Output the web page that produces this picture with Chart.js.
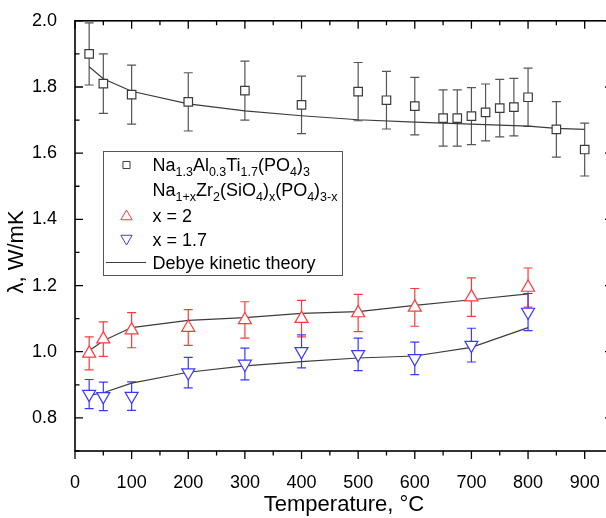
<!DOCTYPE html>
<html>
<head>
<meta charset="utf-8">
<script src="https://cdn.jsdelivr.net/npm/chart.js@4/dist/chart.umd.min.js"></script>
<style>
  html, body { margin: 0; padding: 0; background: #fff; overflow: hidden; }
</style>
</head>
<body>
<canvas id="chart" width="640" height="518"></canvas>
<script>
const FONT = "'Liberation Sans', Arial, sans-serif";

// Na1.3Al0.3Ti1.7(PO4)3
const tempNatp = [25, 50, 100, 200, 300, 400, 500, 550, 600, 650, 675, 700, 725, 750, 775, 800, 850, 900];
const lambdaNatp = [1.90, 1.81, 1.777, 1.755, 1.789, 1.746, 1.786, 1.76, 1.742, 1.706, 1.706, 1.712, 1.723, 1.736, 1.739, 1.769, 1.672, 1.611];
const errNatp = [0.094, 0.09, 0.089, 0.088, 0.089, 0.087, 0.088, 0.087, 0.087, 0.085, 0.085, 0.086, 0.086, 0.087, 0.087, 0.088, 0.084, 0.08];

// Na1+xZr2(SiO4)x(PO4)3-x
const tempNzsp = [25, 50, 100, 200, 300, 400, 500, 600, 700, 800];
const lambdaX2 = [0.995, 1.038, 1.065, 1.073, 1.096, 1.10, 1.117, 1.134, 1.165, 1.194];
const errX2 = [0.05, 0.052, 0.053, 0.054, 0.055, 0.055, 0.056, 0.057, 0.058, 0.059];
const lambdaX17 = [0.872, 0.865, 0.866, 0.937, 0.963, 1.001, 0.992, 0.98, 1.02, 1.12];
const errX17 = [0.044, 0.043, 0.043, 0.046, 0.048, 0.05, 0.049, 0.049, 0.051, 0.056];

// Debye kinetic theory
const fitTempNatp = [25, 50, 100, 200, 300, 400, 500, 600, 700, 800, 850, 900];
const fitNatp = [1.861, 1.825, 1.787, 1.749, 1.728, 1.713, 1.701, 1.694, 1.688, 1.682, 1.675, 1.672];
const fitX2 = [1.003, 1.033, 1.073, 1.095, 1.103, 1.116, 1.121, 1.140, 1.157, 1.175];
const fitX17 = [0.868, 0.876, 0.905, 0.938, 0.957, 0.970, 0.981, 0.987, 1.013, 1.073];

const xTicks = [0, 100, 200, 300, 400, 500, 600, 700, 800, 900];
const yTicks = [0.8, 1.0, 1.2, 1.4, 1.6, 1.8, 2.0];
const xRange = [0, 950];
const yRange = [0.7, 2.0];

const yTitle = 'λ, W/mK';
const legendLabels = [
  'Na_{1.3}Al_{0.3}Ti_{1.7}(PO_{4})_{3}',
  'Na_{1+x}Zr_{2}(SiO_{4})_{x}(PO_{4})_{3-x}',
  'x = 2',
  'x = 1.7',
  'Debye kinetic theory'
];

const RED = '#ff3a3a';
const BLUE = '#3a3aff';
const GREY = '#3c3c3c';

function pts(xs, ys) {
  return xs.map((x, i) => ({ x: x, y: ys[i] }));
}

// vertical error bars with caps, drawn under the markers
const errorBars = {
  id: 'errorBars',
  beforeDatasetsDraw(chart) {
    const { ctx, scales: { x, y } } = chart;
    chart.data.datasets.forEach(ds => {
      if (!ds.errors) return;
      ctx.save();
      ctx.strokeStyle = ds.errColor;
      ctx.lineWidth = 1.2;
      ctx.beginPath();
      ds.data.forEach((p, i) => {
        const px = x.getPixelForValue(p.x);
        const top = y.getPixelForValue(p.y + ds.errors[i]);
        const bot = y.getPixelForValue(p.y - ds.errors[i]);
        ctx.moveTo(px, top); ctx.lineTo(px, bot);
        ctx.moveTo(px - 4.5, top); ctx.lineTo(px + 4.5, top);
        ctx.moveTo(px - 4.5, bot); ctx.lineTo(px + 4.5, bot);
      });
      ctx.stroke();
      ctx.restore();
    });
  }
};

// box frame: bottom ticks point out, the other three sides point in
const frame = {
  id: 'frame',
  afterDatasetsDraw(chart) {
    const { ctx, chartArea: a, scales: { x, y } } = chart;
    ctx.save();
    ctx.strokeStyle = '#000';
    ctx.lineWidth = 1.6;
    ctx.strokeRect(a.left, a.top, a.right - a.left, a.bottom - a.top);
    ctx.lineWidth = 1.3;
    ctx.beginPath();
    for (let k = 0; k <= 19; k++) {
      const px = x.getPixelForValue(k * 50);
      const len = k % 2 === 0 ? 8 : 4.5;
      ctx.moveTo(px, a.bottom); ctx.lineTo(px, a.bottom + len);
      ctx.moveTo(px, a.top); ctx.lineTo(px, a.top + len);
    }
    for (let k = 7; k <= 20; k++) {
      const py = y.getPixelForValue(k / 10);
      const len = k % 2 === 0 ? 8 : 4.5;
      ctx.moveTo(a.left, py); ctx.lineTo(a.left + len, py);
      ctx.moveTo(a.right, py); ctx.lineTo(a.right - len, py);
    }
    ctx.stroke();

    // y axis title, rotated
    ctx.translate(17, 252);
    ctx.rotate(-Math.PI / 2);
    ctx.fillStyle = '#000';
    ctx.font = '22px ' + FONT;
    ctx.textAlign = 'center';
    ctx.textBaseline = 'middle';
    ctx.fillText(yTitle, 0, 0);
    ctx.restore();
  }
};

// text with _{...} subscripts
function drawRich(ctx, text, x, y) {
  text.split(/(_\{[^}]*\})/).forEach(part => {
    if (!part) return;
    const sub = part.startsWith('_{');
    const s = sub ? part.slice(2, -1) : part;
    ctx.font = (sub ? '12.5px ' : '18px ') + FONT;
    ctx.fillText(s, x, sub ? y + 4.5 : y);
    x += ctx.measureText(s).width;
  });
}

const legendBox = {
  id: 'legendBox',
  afterDraw(chart) {
    const ctx = chart.ctx;
    const left = 103.5, top = 151.5, w = 239, h = 124;
    const symX = 126.5, textX = 152.5;
    const baselines = [171, 196, 221.5, 245.5, 269];
    ctx.save();
    ctx.fillStyle = '#fff';
    ctx.fillRect(left, top, w, h);
    ctx.strokeStyle = '#555';
    ctx.lineWidth = 1;
    ctx.strokeRect(left, top, w, h);

    ctx.strokeStyle = GREY;
    Chart.helpers.drawPoint(ctx, { pointStyle: 'rect', radius: 5, borderWidth: 1.2, rotation: 0 }, symX, baselines[0] - 6);
    ctx.strokeStyle = RED;
    Chart.helpers.drawPoint(ctx, { pointStyle: 'triangle', radius: 6.5, borderWidth: 1.2, rotation: 0 }, symX, baselines[2] - 5);
    ctx.strokeStyle = BLUE;
    Chart.helpers.drawPoint(ctx, { pointStyle: 'triangle', radius: 6.5, borderWidth: 1.2, rotation: 180 }, symX, baselines[3] - 7);
    ctx.strokeStyle = GREY;
    ctx.lineWidth = 1.2;
    ctx.beginPath();
    ctx.moveTo(106, baselines[4] - 6.5);
    ctx.lineTo(146, baselines[4] - 6.5);
    ctx.stroke();

    ctx.fillStyle = '#000';
    ctx.textBaseline = 'alphabetic';
    ctx.textAlign = 'left';
    legendLabels.forEach((lbl, i) => drawRich(ctx, lbl, textX, baselines[i]));
    ctx.restore();
  }
};

const markerNatp = {
  type: 'scatter', data: pts(tempNatp, lambdaNatp), errors: errNatp, errColor: '#555',
  pointStyle: 'rect', pointRadius: 6, pointHoverRadius: 6,
  borderColor: GREY, backgroundColor: '#fff', borderWidth: 1.2, order: 0
};
const markerX2 = {
  type: 'scatter', data: pts(tempNzsp, lambdaX2), errors: errX2, errColor: RED,
  pointStyle: 'triangle', pointRadius: 7.5, pointHoverRadius: 7.5,
  borderColor: RED, backgroundColor: '#fff', borderWidth: 1.2, order: 0
};
const markerX17 = {
  type: 'scatter', data: pts(tempNzsp, lambdaX17), errors: errX17, errColor: BLUE,
  pointStyle: 'triangle', pointRotation: 180, pointRadius: 7.5, pointHoverRadius: 7.5,
  borderColor: BLUE, backgroundColor: '#fff', borderWidth: 1.2, order: 0
};

function fitLine(xs, ys) {
  return {
    type: 'line', data: pts(xs, ys), borderColor: GREY, borderWidth: 1.2,
    pointRadius: 0, tension: 0, fill: false, order: 1
  };
}

new Chart(document.getElementById('chart'), {
  type: 'scatter',
  data: {
    datasets: [
      markerNatp, markerX2, markerX17,
      fitLine(fitTempNatp, fitNatp),
      fitLine(tempNzsp, fitX2),
      fitLine(tempNzsp, fitX17)
    ]
  },
  options: {
    responsive: false,
    animation: false,
    events: [],
    layout: { padding: { top: 17, right: 27, left: 0, bottom: 0 } },
    plugins: { legend: { display: false }, tooltip: { enabled: false } },
    scales: {
      x: {
        type: 'linear', min: xRange[0], max: xRange[1],
        grid: { display: false }, border: { display: false },
        afterBuildTicks: s => { s.ticks = xTicks.map(v => ({ value: v })); },
        afterFit: s => { s.height = 67; },
        ticks: { color: '#000', padding: 13, font: { family: FONT, size: 18 }, maxRotation: 0 },
        title: { display: true, text: 'Temperature, °C', color: '#000', font: { family: FONT, size: 22 }, padding: { top: 0, bottom: 0 } }
      },
      y: {
        type: 'linear', min: yRange[0], max: yRange[1],
        grid: { display: false }, border: { display: false },
        afterBuildTicks: s => { s.ticks = yTicks.map(v => ({ value: v })); },
        afterFit: s => { s.width = 75; },
        ticks: { color: '#000', padding: 10, font: { family: FONT, size: 18 }, callback: v => v.toFixed(1) }
      }
    }
  },
  plugins: [errorBars, frame, legendBox]
});
</script>
</body>
</html>
